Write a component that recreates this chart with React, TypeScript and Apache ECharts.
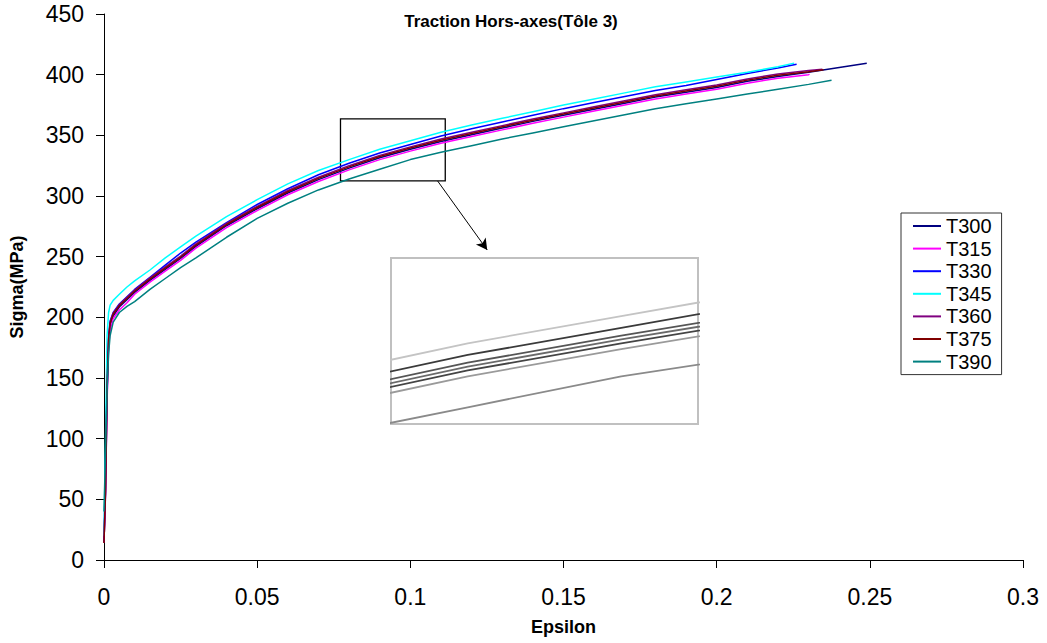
import React, { useEffect, useRef } from "react";
import * as echarts from "echarts";

const EPS = [0, 0.0005, 0.001, 0.0015, 0.002, 0.003, 0.005, 0.0075, 0.01, 0.015, 0.02, 0.025, 0.03, 0.04, 0.05, 0.06, 0.07, 0.08, 0.09, 0.1, 0.11, 0.12, 0.13, 0.14, 0.15, 0.16, 0.17, 0.18, 0.19, 0.2, 0.21, 0.22, 0.23, 0.24];

const T300 = [15, 55, 135, 178, 193, 201, 208.5, 214.5, 220.5, 230.5, 239.5, 248.5, 258.5, 275.5, 289.5, 302.5, 313.5, 323, 331.5, 338.5, 345, 350.5, 356, 361.5, 366.5, 371.5, 376.5, 381.5, 385.5, 389.5, 394.5, 398.5, 402, 406];
const T300_END = [0.249, 409.5];
const T315 = [16, 55, 130, 175, 190, 199, 206, 212, 219, 229, 238, 247, 257, 274, 288, 301, 312, 321.5, 330, 337, 343.5, 349, 354.5, 360, 365, 370, 375, 380, 384, 388, 393, 397, 400];
const T315_END = [0.2303, 400.5];
const T330 = [15, 80, 150, 185, 197, 204, 211, 217, 223, 233, 243, 253, 262, 278, 293, 306, 317.5, 327, 335.5, 342.5, 349.5, 355.5, 361, 366.5, 372, 377, 382, 387, 391, 396, 401, 405.5];
const T330_END = [0.2261, 408.5];
const T345 = [20, 100, 185, 204, 210, 214, 219, 225, 230, 239, 249, 258, 267, 283, 297, 310, 321, 330, 338.5, 345.5, 352.5, 358.5, 364, 369.5, 375, 380, 385, 390, 394, 398, 402, 406.5];
const T345_END = [0.2253, 409.5];
const T360 = [14, 60, 145, 183, 196, 203.5, 210.5, 216.5, 222.5, 232.5, 241.5, 250.5, 260.5, 277.5, 291.5, 304.5, 315.5, 325, 333.5, 340.5, 347, 352.5, 358, 363.5, 368.5, 373.5, 378.5, 383.5, 387.5, 391.5, 396.5, 400.5, 403.5];
const T360_END = [0.2345, 404.5];
const T375 = [14, 58, 140, 181, 195, 202.5, 209.5, 215.5, 221.5, 231.5, 240.5, 249.5, 259.5, 276.5, 290.5, 303.5, 314.5, 324, 332.5, 339.5, 346, 351.5, 357, 362.5, 367.5, 372.5, 377.5, 382.5, 386.5, 390.5, 395.5, 399.5, 402.5];
const T375_END = [0.2349, 404];
const T390 = [40, 90, 140, 170, 185, 196, 204, 209, 213, 223, 232, 241, 249, 266, 281.5, 294, 305, 314, 322, 330, 336, 341.5, 347, 352, 357, 362, 367, 372, 376, 380, 384, 388, 392];
const T390_END = [0.2375, 395.4];

const SERIES_NAMES = ["T300", "T315", "T330", "T345", "T360", "T375", "T390"];
const SERIES_VALUES = [T300, T315, T330, T345, T360, T375, T390];
const SERIES_ENDS = [T300_END, T315_END, T330_END, T345_END, T360_END, T375_END, T390_END];
const COLORS = ["#000080", "#FF00FF", "#0000FF", "#00FFFF", "#800080", "#800000", "#008080"];
const INSET_GRAYS = ["#444444", "#9a9a9a", "#3a3a3a", "#c4c4c4", "#555555", "#6a6a6a", "#8a8a8a"];

// zoom box (data coords) and inset data window
const ZOOM_BOX = { x0: 0.0772, x1: 0.1114, y0: 312.4, y1: 363.5 };
const ARROW_FROM = [0.1089, 312.4];
const ARROW_TO = [0.1251, 255.5];
const INSET_X = [0.085, 0.105];
const INSET_Y = [317.7, 360.5];

const FONT = "'Liberation Sans', Arial, Helvetica, sans-serif";

function pairs(values: number[], end: number[]) {
  const out: number[][] = values.map((v, i) => [EPS[i], v]);
  out.push(end);
  return out;
}

export default function App() {
  const ref = useRef<HTMLDivElement>(null);
  useEffect(() => {
    if (!ref.current) return;
    const chart = echarts.init(ref.current, null, { renderer: "svg" });
    const mainSeries: any[] = SERIES_NAMES.map((name, i) => ({
      name,
      type: "line",
      xAxisIndex: 0,
      yAxisIndex: 0,
      data: pairs(SERIES_VALUES[i], SERIES_ENDS[i]),
      showSymbol: false,
      symbol: "none",
      lineStyle: { color: COLORS[i], width: 1.5 },
      itemStyle: { color: COLORS[i] },
      z: 3,
    }));
    mainSeries[0].markArea = {
      silent: true,
      itemStyle: { color: "rgba(0,0,0,0)", borderColor: "#000", borderWidth: 1.3 },
      label: { show: false },
      data: [[{ coord: [ZOOM_BOX.x0, ZOOM_BOX.y1] }, { coord: [ZOOM_BOX.x1, ZOOM_BOX.y0] }]],
    };
    mainSeries[0].markLine = {
      silent: true,
      symbol: ["none", "arrow"],
      symbolSize: [9, 11],
      label: { show: false },
      lineStyle: { color: "#000", width: 1, type: "solid" },
      data: [[{ coord: ARROW_FROM }, { coord: ARROW_TO }]],
    };
    const insetSeries = SERIES_NAMES.map((name, i) => ({
      name: name + " (zoom)",
      type: "line",
      xAxisIndex: 1,
      yAxisIndex: 1,
      data: pairs(SERIES_VALUES[i], SERIES_ENDS[i]),
      showSymbol: false,
      symbol: "none",
      clip: true,
      lineStyle: { color: INSET_GRAYS[i], width: 1.8 },
      z: 5,
    }));

    chart.setOption({
      animation: false,
      backgroundColor: "#fff",
      textStyle: { fontFamily: FONT },
      graphic: [
        {
          type: "text",
          x: 511,
          y: 21,
          style: {
            text: "Traction Hors-axes(Tôle 3)",
            font: `bold 17px ${FONT}`,
            fill: "#000",
            textAlign: "center",
            textVerticalAlign: "middle",
          },
        },
      ],
      grid: [
        { left: 103, top: 14, right: 24, bottom: 83, containLabel: false },
        {
          left: 391,
          top: 258,
          width: 307,
          height: 166,
          show: true,
          backgroundColor: "#fff",
          borderColor: "#c0c0c0",
          borderWidth: 2,
          z: 4,
        },
      ],
      legend: {
        data: SERIES_NAMES,
        orient: "vertical",
        left: 901,
        top: 213,
        width: 101,
        padding: [3, 10, 3, 12],
        itemGap: 2.6,
        itemWidth: 28,
        itemHeight: 2,
        icon: "rect",
        borderColor: "#333",
        borderWidth: 1,
        backgroundColor: "#fff",
        textStyle: { fontFamily: FONT, fontSize: 20, color: "#000", lineHeight: 20 },
      },
      xAxis: [
        {
          type: "value",
          gridIndex: 0,
          min: 0,
          max: 0.3,
          interval: 0.05,
          name: "Epsilon",
          nameLocation: "middle",
          nameGap: 58,
          nameTextStyle: { fontFamily: FONT, fontWeight: "bold", fontSize: 18, color: "#000" },
          axisLine: { show: true, lineStyle: { color: "#000", width: 1 } },
          axisTick: { show: true, length: 8, lineStyle: { color: "#000" } },
          axisLabel: {
            fontFamily: FONT,
            fontSize: 23,
            color: "#000",
            margin: 25,
            formatter: (v: number) => String(+v.toFixed(2)),
          },
          splitLine: { show: false },
        },
        { type: "value", gridIndex: 1, min: INSET_X[0], max: INSET_X[1], show: false, splitLine: { show: false } },
      ],
      yAxis: [
        {
          type: "value",
          gridIndex: 0,
          min: 0,
          max: 450,
          interval: 50,
          name: "Sigma(MPa)",
          nameLocation: "middle",
          nameRotate: 90,
          nameGap: 78,
          nameTextStyle: { fontFamily: FONT, fontWeight: "bold", fontSize: 18, color: "#000" },
          axisLine: { show: true, lineStyle: { color: "#000", width: 1 } },
          axisTick: { show: true, length: 8, lineStyle: { color: "#000" } },
          axisLabel: { fontFamily: FONT, fontSize: 23, color: "#000", margin: 20 },
          splitLine: { show: false },
        },
        { type: "value", gridIndex: 1, min: INSET_Y[0], max: INSET_Y[1], show: false, splitLine: { show: false } },
      ],
      series: [...mainSeries, ...insetSeries],
    });
    return () => chart.dispose();
  }, []);
  return (
    <div
      ref={ref}
      style={{ position: "fixed", left: 0, top: 0, width: 1047, height: 643, background: "#fff" }}
    />
  );
}
